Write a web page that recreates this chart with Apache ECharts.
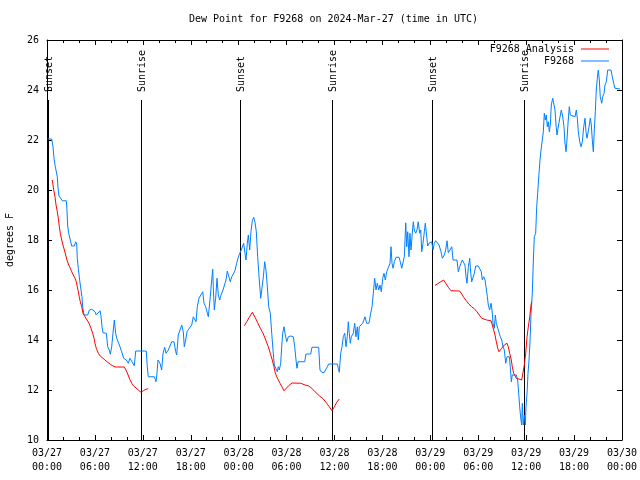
<!DOCTYPE html>
<html><head><meta charset="utf-8">
<script src="https://cdn.jsdelivr.net/npm/echarts@6/dist/echarts.min.js"></script>
<style>html,body{margin:0;padding:0;background:#fff}#c{width:640px;height:480px}</style>
</head><body><div id="c"></div>
<script>
// hours since 2024-03-27 00:00 UTC, dew point degrees F
var station = [
[0.09,22.04],[0.59,22.04],[0.75,21.73],[0.88,21.27],[1.04,20.93],[1.21,20.87],[1.29,20.53],[1.38,20.07],[1.50,19.76],[1.75,19.71],[1.92,19.57],[2.42,19.57],[2.50,19.2],[2.59,18.56],[2.72,18.27],[2.92,18.2],[3.09,17.76],[3.42,17.76],[3.59,17.93],[3.72,17.84],[3.79,17.27],[3.92,16.87],[4.09,16.4],[4.26,16.0],[4.38,15.73],[4.47,15.33],[4.63,15.0],[5.10,15.0],[5.30,15.2],[5.60,15.23],[6.01,15.13],[6.17,15.0],[6.42,15.0],[6.64,15.17],[6.76,14.97],[6.89,14.53],[7.01,14.29],[7.43,14.27],[7.60,13.73],[7.80,13.6],[7.93,13.43],[8.10,13.73],[8.26,14.27],[8.43,14.8],[8.60,14.27],[8.73,14.07],[8.93,14.0],[9.14,13.73],[9.35,13.53],[9.60,13.27],[9.77,13.27],[9.93,13.2],[10.18,13.07],[10.39,13.27],[10.61,13.23],[10.93,12.97],[11.11,13.56],[12.43,13.56],[12.56,12.93],[12.68,12.53],[13.44,12.53],[13.65,12.33],[13.77,12.67],[13.90,13.2],[14.06,13.27],[14.15,13.07],[14.36,12.8],[14.53,13.47],[14.74,13.71],[14.90,13.47],[15.19,13.6],[15.62,13.93],[15.90,13.93],[16.12,13.53],[16.24,13.4],[16.44,14.2],[16.65,14.13],[16.87,14.6],[17.07,14.33],[17.19,13.73],[17.37,14.0],[17.53,14.33],[17.82,14.47],[18.12,14.6],[18.32,14.93],[18.53,14.87],[18.66,14.73],[18.82,15.33],[19.03,15.67],[19.28,15.73],[19.50,15.93],[19.66,15.47],[19.87,15.33],[20.07,15.33],[20.20,14.93],[20.41,15.6],[20.62,16.4],[20.75,16.83],[20.82,16.13],[20.95,15.2],[21.12,15.67],[21.29,16.47],[21.45,15.8],[21.63,15.6],[21.79,15.8],[22.04,16.0],[22.29,16.27],[22.41,16.4],[22.58,16.76],[22.79,16.77],[22.95,16.33],[23.13,16.53],[23.33,16.64],[23.54,16.77],[23.75,17.07],[23.95,17.31],[24.13,17.47],[24.29,17.57],[24.46,17.65],[24.63,17.87],[24.79,17.47],[24.92,17.2],[25.08,17.87],[25.21,18.2],[25.38,17.6],[25.54,18.33],[25.71,18.77],[25.88,18.91],[26.05,18.7],[26.21,18.33],[26.38,17.33],[26.58,16.4],[26.76,15.67],[26.92,15.67],[27.09,16.53],[27.26,17.13],[27.42,16.8],[27.59,16.13],[27.76,15.33],[27.96,15.07],[28.14,14.27],[28.30,13.6],[28.46,13.0],[28.59,13.08],[28.68,12.93],[28.84,12.73],[28.96,12.93],[29.09,12.8],[29.26,13.07],[29.39,13.73],[29.51,14.27],[29.68,14.53],[29.84,14.2],[30.02,13.93],[30.22,14.13],[30.52,14.16],[30.84,14.13],[31.02,13.73],[31.18,13.2],[31.30,12.87],[31.43,13.13],[32.27,13.13],[32.43,13.44],[33.02,13.44],[33.18,13.71],[34.02,13.71],[34.18,12.8],[34.40,12.71],[34.69,12.69],[34.94,12.77],[35.10,12.93],[35.27,13.04],[36.35,13.04],[36.48,12.87],[36.60,12.71],[36.78,13.47],[36.94,13.73],[37.10,14.13],[37.28,14.27],[37.44,13.73],[37.60,14.13],[37.73,14.73],[37.85,14.27],[37.98,13.87],[38.10,14.13],[38.36,14.27],[38.53,14.67],[38.69,14.13],[38.86,14.53],[38.98,14.0],[39.11,14.53],[39.28,14.6],[39.53,14.67],[39.82,14.93],[40.03,14.67],[40.32,14.67],[40.53,15.07],[40.70,15.33],[40.86,15.87],[41.03,16.47],[41.20,16.0],[41.36,16.27],[41.54,16.0],[41.70,16.2],[41.86,15.93],[42.04,16.47],[42.20,16.67],[42.36,16.4],[42.54,16.73],[42.74,16.8],[42.95,17.07],[43.08,17.73],[43.20,17.07],[43.33,16.87],[43.49,17.13],[43.70,17.31],[44.08,17.31],[44.24,17.13],[44.42,16.87],[44.62,16.87],[44.74,17.33],[44.92,18.69],[45.04,17.73],[45.17,18.33],[45.33,17.33],[45.45,18.27],[45.58,17.6],[45.74,18.27],[45.87,18.73],[45.99,18.4],[46.17,18.27],[46.33,18.4],[46.49,18.73],[46.67,18.27],[46.80,18.4],[46.92,17.53],[47.08,17.87],[47.25,18.33],[47.37,18.67],[47.55,18.13],[47.67,17.76],[47.83,17.87],[48.00,17.8],[48.17,17.93],[48.34,17.6],[48.50,17.87],[48.67,17.97],[48.87,17.89],[49.09,17.8],[49.34,17.53],[49.50,17.27],[49.75,17.4],[49.92,17.6],[50.09,17.97],[50.25,17.49],[50.46,17.6],[50.68,17.73],[50.84,17.2],[51.34,17.2],[51.50,16.73],[51.68,16.93],[51.84,17.07],[52.00,17.2],[52.18,17.23],[52.34,17.0],[52.47,16.53],[52.59,16.27],[52.76,16.93],[52.93,17.27],[53.06,16.67],[53.18,16.33],[53.34,16.33],[53.51,16.67],[53.68,16.96],[54.01,16.96],[54.22,16.93],[54.38,16.73],[54.51,16.4],[54.68,16.53],[54.85,16.4],[54.97,16.13],[55.14,15.73],[55.26,15.4],[55.43,15.2],[55.60,15.47],[55.72,15.2],[55.85,14.67],[56.01,14.47],[56.14,15.0],[56.26,14.67],[56.44,14.47],[56.60,14.4],[56.76,14.13],[56.94,14.0],[57.10,13.73],[57.26,13.6],[57.44,13.07],[57.60,13.33],[57.89,13.33],[58.01,12.93],[58.14,12.33],[58.26,12.6],[58.77,12.6],[58.94,12.4],[59.06,11.87],[59.19,11.33],[59.32,10.87],[59.44,10.6],[59.52,11.47],[59.64,10.6],[59.77,11.0],[59.89,10.6],[59.98,11.33],[60.11,11.87],[60.23,12.67],[60.36,13.2],[60.48,13.93],[60.61,15.07],[60.77,15.87],[60.90,17.2],[61.02,18.13],[61.19,18.27],[61.32,19.33],[61.44,19.87],[61.61,20.67],[61.73,21.2],[61.86,21.6],[62.02,22.0],[62.15,22.33],[62.27,23.07],[62.40,22.8],[62.52,23.0],[62.65,22.53],[62.77,22.73],[62.90,22.33],[63.02,22.6],[63.15,23.4],[63.32,23.67],[63.49,23.6],[63.61,23.2],[63.74,22.6],[63.86,22.2],[63.99,22.47],[64.11,22.4],[64.24,22.93],[64.40,23.2],[64.58,22.93],[64.74,22.53],[64.86,21.87],[64.99,21.53],[65.11,22.0],[65.24,22.67],[65.40,23.33],[65.53,23.0],[65.70,22.93],[66.12,22.93],[66.28,23.2],[66.41,22.87],[66.53,22.33],[66.71,21.93],[66.87,21.73],[67.03,21.93],[67.21,22.53],[67.37,22.87],[67.49,22.33],[67.62,22.07],[67.78,22.07],[67.91,22.6],[68.03,22.87],[68.16,22.6],[68.28,22.0],[68.41,21.53],[68.53,22.4],[68.66,23.13],[68.78,24.0],[68.91,24.47],[69.03,24.8],[69.16,24.4],[69.28,23.73],[69.46,23.47],[69.58,23.73],[69.75,23.87],[69.87,24.2],[70.04,24.33],[70.21,24.8],[70.62,24.8],[70.79,24.53],[70.96,24.27],[71.12,24.07],[71.75,24.04]
];
var analysis1 = [
[0.66,20.4],[0.84,20.0],[1.00,19.73],[1.13,19.4],[1.29,19.13],[1.42,18.87],[1.54,18.53],[1.67,18.27],[1.84,18.0],[2.00,17.8],[2.17,17.6],[2.34,17.4],[2.50,17.2],[2.67,17.04],[2.88,16.89],[3.09,16.73],[3.29,16.6],[3.51,16.47],[3.67,16.33],[3.79,16.13],[3.92,15.93],[4.04,15.73],[4.17,15.53],[4.35,15.33],[4.51,15.07],[4.76,14.93],[5.01,14.8],[5.26,14.67],[5.51,14.47],[5.72,14.27],[5.89,14.07],[6.01,13.87],[6.17,13.67],[6.42,13.47],[6.67,13.36],[6.92,13.31],[7.26,13.2],[7.60,13.11],[7.93,13.03],[8.26,12.96],[8.60,12.92],[9.68,12.92],[9.89,12.8],[10.11,12.64],[10.36,12.43],[10.61,12.27],[10.86,12.16],[11.11,12.09],[11.43,12.0],[11.77,11.91],[12.06,11.97],[12.40,12.03],[12.68,12.05]
];
var analysis2 = [
[24.71,14.57],[25.01,14.73],[25.33,14.91],[25.71,15.11],[26.05,14.91],[26.38,14.69],[26.71,14.47],[27.05,14.27],[27.39,14.0],[27.71,13.73],[27.96,13.47],[28.21,13.2],[28.42,12.93],[28.55,12.73],[28.76,12.53],[29.18,12.27],[29.68,11.97],[30.22,12.16],[30.68,12.28],[31.77,12.27],[32.31,12.2],[32.72,12.17],[33.15,12.07],[33.56,11.93],[34.10,11.77],[34.60,11.64],[35.02,11.47],[35.35,11.33],[35.69,11.17],[35.98,11.33],[36.28,11.51],[36.60,11.64]
];
var analysis3 = [
[48.59,16.19],[48.92,16.25],[49.25,16.32],[49.67,16.4],[49.92,16.27],[50.25,16.11],[50.59,15.97],[51.68,15.96],[51.93,15.84],[52.18,15.71],[52.50,15.57],[52.84,15.43],[53.18,15.33],[53.51,15.25],[53.84,15.13],[54.13,15.0],[54.43,14.87],[54.68,14.81],[55.06,14.8],[55.60,14.77],[55.76,14.6],[55.93,14.4],[56.10,14.2],[56.26,13.93],[56.44,13.67],[56.60,13.53],[56.94,13.67],[57.26,13.8],[57.60,13.87],[57.76,13.73],[57.94,13.47],[58.14,13.2],[58.26,12.93],[58.43,12.67],[58.51,12.6],[58.77,12.47],[59.10,12.44],[59.44,12.4],[59.69,12.4],[59.77,13.0],[59.94,13.47],[60.11,14.13],[60.27,14.53],[60.45,14.93],[60.61,15.4],[60.70,15.53]
];
var sunTimes = [0.15, 11.8, 24.2, 35.72, 48.25, 59.77];
var sunLabels = ['Sunset','Sunrise','Sunset','Sunrise','Sunset','Sunrise'];
var xTickLabels = ['03/27\n00:00','03/27\n06:00','03/27\n12:00','03/27\n18:00','03/28\n00:00','03/28\n06:00','03/28\n12:00','03/28\n18:00','03/29\n00:00','03/29\n06:00','03/29\n12:00','03/29\n18:00','03/30\n00:00'];
var sunLineTop = 23.6;
var titleText = 'Dew Point for F9268 on 2024-Mar-27 (time in UTC)';

var FONT = 'DejaVu Sans Mono';
var chart = echarts.init(document.getElementById('c'), null, {renderer:'canvas'});
function xAxisCfg(pos, showLabel){
  return {
    type:'value', min:0, max:72, interval:6, position:pos,
    axisLine:{show:true, onZero:false, lineStyle:{color:'#000', width:1}},
    axisTick:{show:true, inside:true, length:5, lineStyle:{color:'#000'}},
    minorTick:{show:true, splitNumber:3, length:3, lineStyle:{color:'#000'}},
    splitLine:{show:false},
    axisLabel:{show:showLabel, fontFamily:FONT, fontSize:10, color:'#000', lineHeight:14, margin:6,
      formatter:function(v){ return xTickLabels[Math.round(v/6)]; }}
  };
}
function yAxisCfg(pos, showLabel){
  var c = {
    type:'value', min:10, max:26, interval:2, position:pos,
    axisLine:{show:true, onZero:false, lineStyle:{color:'#000', width:1}},
    axisTick:{show:true, inside:true, length:5, lineStyle:{color:'#000'}},
    splitLine:{show:false},
    axisLabel:{show:showLabel, fontFamily:FONT, fontSize:10, color:'#000', margin:8}
  };
  if (showLabel) {
    c.name = 'degrees F'; c.nameLocation = 'middle'; c.nameRotate = 90; c.nameGap = 32;
    c.nameTextStyle = {fontFamily:FONT, fontSize:10, color:'#000'};
  }
  return c;
}
var lineCommon = {type:'line', showSymbol:false, symbol:'none', animation:false, clip:true};
var option = {
  animation:false,
  backgroundColor:'#fff',
  title:{text:titleText, left:189, top:14, padding:0, textStyle:{fontFamily:FONT, fontSize:10, fontWeight:'normal', color:'#000'}},
  grid:{left:47, right:18, top:40, bottom:40, containLabel:false, outerBoundsMode:'none'},
  xAxis:[xAxisCfg('bottom', true), xAxisCfg('top', false)],
  yAxis:[yAxisCfg('left', true), yAxisCfg('right', false)],
  legend:[
    {data:['F9268 Analysis'], right:31, top:44, orient:'vertical', align:'right', icon:'rect', itemWidth:28, itemHeight:1, itemGap:0, padding:0,
      textStyle:{fontFamily:FONT, fontSize:10, color:'#000', padding:[0,2,0,0]}},
    {data:['F9268'], right:31, top:56, orient:'vertical', align:'right', icon:'rect', itemWidth:28, itemHeight:1, itemGap:0, padding:0,
      textStyle:{fontFamily:FONT, fontSize:10, color:'#000', padding:[0,2,0,0]}}
  ],
  series:[
    {type:'custom', name:'sun', xAxisIndex:0, yAxisIndex:0, z:1, silent:true,
      data: sunTimes.map(function(t){ return [t, 10]; }),
      renderItem:function(params, api){
        var t = api.value(0);
        var top = api.coord([t, sunLineTop]);
        var bot = api.coord([t, 10]);
        var x = Math.round(top[0]) + 0.5;
        return {type:'group', children:[
          {type:'line', shape:{x1:x, y1:top[1], x2:x, y2:bot[1]}, style:{stroke:'#000', lineWidth:1}},
          {type:'text', x:x+1, y:top[1]-8, rotation:Math.PI/2,
            style:{text:sunLabels[params.dataIndex], font:'10px ' + FONT, fill:'#000', align:'left', verticalAlign:'middle'}}
        ]};
      }
    },
    Object.assign({}, lineCommon, {name:'F9268', data:station, z:3, lineStyle:{color:'#0080ff', width:1}, itemStyle:{color:'#0080ff'}}),
    Object.assign({}, lineCommon, {name:'F9268 Analysis', data:analysis1, z:4, lineStyle:{color:'#ff0000', width:1}, itemStyle:{color:'#ff0000'}}),
    Object.assign({}, lineCommon, {name:'F9268 Analysis', data:analysis2, z:4, lineStyle:{color:'#ff0000', width:1}, itemStyle:{color:'#ff0000'}}),
    Object.assign({}, lineCommon, {name:'F9268 Analysis', data:analysis3, z:4, lineStyle:{color:'#ff0000', width:1}, itemStyle:{color:'#ff0000'}})
  ]
};
chart.setOption(option);
</script></body></html>
